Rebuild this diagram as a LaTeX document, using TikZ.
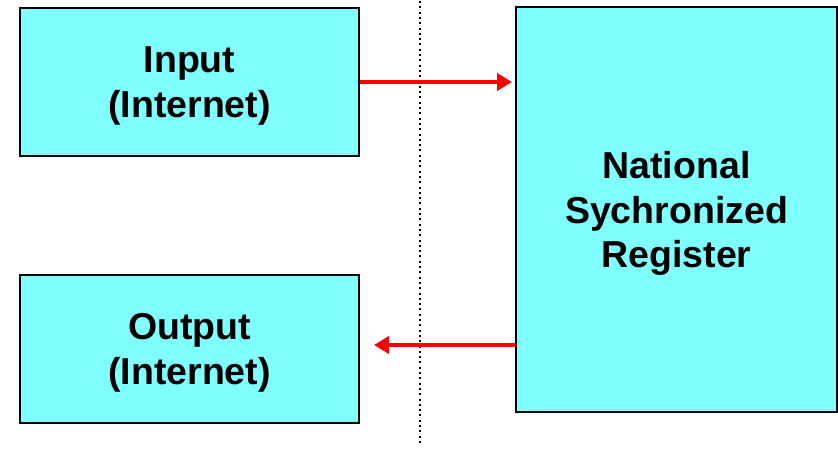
\documentclass[tikz,border=0pt]{standalone}
\usepackage{fontspec}
\setmainfont{Liberation Sans}
\usetikzlibrary{arrows.meta}
\definecolor{boxcyan}{HTML}{80FFFF}
\definecolor{arrowred}{HTML}{FF0000}
\tikzset{
  box/.style={draw=black, line width=1.5pt, fill=boxcyan, inner sep=0pt},
  boxtext/.style={inner sep=0pt, align=center, yshift=-4pt,
    font=\bfseries\fontsize{37.5}{44.5}\selectfont},
  flow/.style={draw=arrowred, line width=4.5pt, -{Triangle[length=15pt,width=17pt]}},
  divider/.style={draw=black, line width=2pt, dash pattern=on 2pt off 3.3pt}
}
\begin{document}
\begin{tikzpicture}[x=1pt,y=-1pt]
\useasboundingbox (0,0) rectangle (838,448);
\node[box, minimum width=339pt, minimum height=148pt] (input) at (189.5,82) {};
\node[box, minimum width=339pt, minimum height=148pt] (output) at (189.5,349) {};
\node[box, minimum width=321pt, minimum height=405pt] (reg) at (676.5,209.5) {};
\node[boxtext] (inputtext) at (input.center) {Input\\(Internet)};
\node[boxtext] (outputtext) at (output.center) {Output\\(Internet)};
\node[boxtext] (regtext) at (reg.center) {National\\Sychronized\\Register};
\coordinate (dtop) at (420,1);
\coordinate (dbot) at (420,446);
\draw[divider] (dtop) -- (dbot);
\coordinate (intip) at (512,82);
\coordinate (outstart) at (516,345);
\coordinate (outtip) at (374,345);
\draw[flow] (input.east |- intip) -- (intip);
\draw[flow] (outstart) -- (outtip);
\end{tikzpicture}
\end{document}
